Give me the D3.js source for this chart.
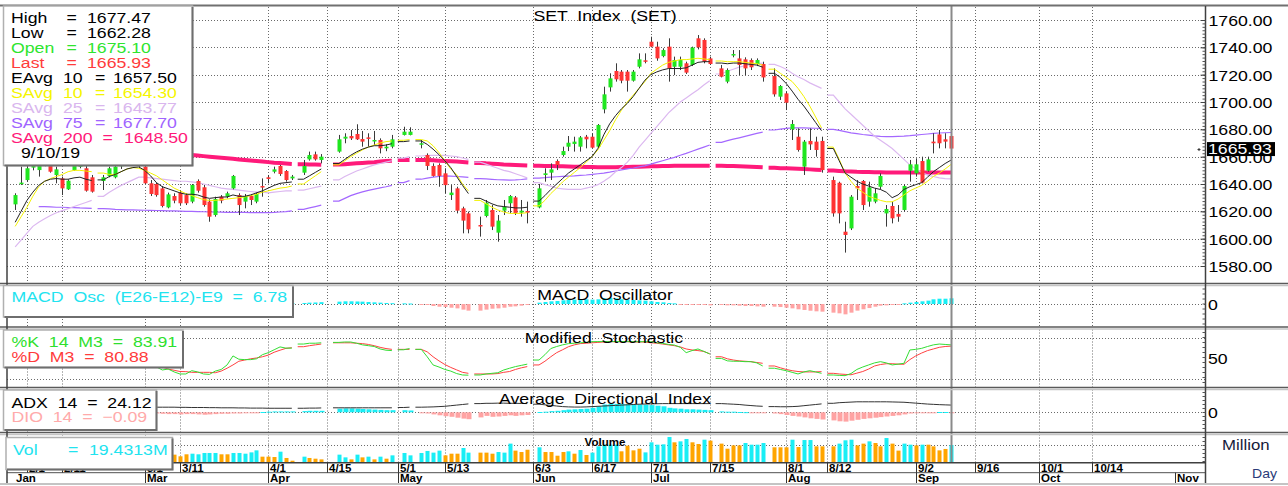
<!DOCTYPE html>
<html>
<head>
<meta charset="utf-8">
<script src="https://cdn.jsdelivr.net/npm/d3@7"></script>
<style>
body { margin: 0; background: #fff; }
svg { display: block; }
text { font-family: "Liberation Sans", Arial, sans-serif; white-space: pre; }
</style>
</head>
<body>
<div id="chart"></div>
<script>
const _ = null;

// one entry per weekday, starting Monday 28 Jan 2019 (null = no trading)
// [open, high, low, close]
const candles = [
  _, _, [1625.1,1633.2,1621.0,1631.9], [1640.0,1652.7,1639.3,1641.0], [1642.9,1653.9,1641.7,1651.5],
  [1652,1660,1650,1656], [1650.2,1660,1645.4,1655.1], [1660,1663,1653,1655], [1653.9,1660,1648.3,1649.0], [1646.6,1652.7,1640.5,1650.7],
  [1644.1,1645.4,1631.9,1636.8], [1636.1,1643.4,1635.6,1642.4], [1650.2,1660,1649.7,1655.1], [1652.7,1658,1651.5,1653.7], [1651.5,1655,1634.4,1635.1],
  [1644.9,1646.6,1633.7,1634.4], _, [1642.2,1646.6,1635.6,1644.9], [1645.9,1652.7,1644.9,1651.5], [1644.9,1653.9,1644.1,1652.7],
  [1653,1660,1651,1657], [1657,1662,1655,1659], [1660,1663,1654,1655], [1654,1659,1652,1658], [1652.7,1655,1640.0,1640.5],
  [1640.5,1642.9,1631.2,1632.7], [1640.0,1641.0,1630.7,1631.9], [1636.8,1638.5,1622.9,1623.9], [1622.9,1633.7,1622.2,1632.4], [1631.2,1633.2,1625.9,1627.8],
  [1633.7,1635.6,1624.6,1625.9], [1631.9,1633.2,1624.6,1625.9], [1627.1,1640.0,1625.9,1639.3], [1642.2,1643.4,1633.7,1635.1], [1637.6,1639.3,1623.4,1624.6],
  [1627.1,1628.8,1612.4,1616.1], [1617.3,1630.7,1616.1,1629.0], [1630.7,1631.9,1625.9,1627.8], [1630.7,1634.4,1629.5,1633.2], [1636.8,1646.6,1636.1,1645.9],
  [1631.9,1633.2,1617.3,1624.6], [1627.1,1632.7,1622.2,1631.2], [1631.2,1632.4,1624.6,1628.3], [1627.1,1633.7,1625.9,1632.7], [1638.5,1644.1,1630.7,1638.0],
  [1644.9,1646.6,1640.5,1643.7], [1649.0,1652.7,1647.8,1650.7], [1653.2,1653.9,1645.9,1647.3], [1649.5,1650.2,1641.7,1642.9], [1644.1,1646.6,1642.9,1645.4],
  _, [1648.3,1657.6,1646.6,1653.2], [1658.0,1663.7,1657.1,1661.2], [1661.7,1663.7,1657.1,1658.0], [1657.6,1661.9,1655.1,1660.0],
  _, _, [1663.7,1675.9,1662.9,1672.7], [1673.2,1677.1,1669.8,1674.6], [1675.1,1679.5,1672.2,1673.4],
  [1676.6,1683.7,1672.2,1672.7], [1672.9,1678.8,1667.3,1671.0], [1674.1,1677.1,1667.3,1673.4], [1671.7,1678.8,1668.5,1672.2], [1672.2,1673.4,1662.4,1666.1],
  [1666.1,1669.0,1664.0,1667.3], [1667.3,1675.9,1666.1,1672.7], _, [1675.9,1681.9,1675.5,1678.3], [1675.9,1681.5,1675.6,1678.3],
  _, [1668.8,1672.2,1666.1,1669.8], [1661.2,1662.4,1650.2,1653.2], [1653.2,1655.1,1645.4,1645.9], [1653.9,1655.1,1638.0,1645.9],
  [1647.8,1651.5,1633.2,1639.2], [1631.9,1639.2,1628.3,1633.7], [1636.8,1638.0,1618.5,1620.5], [1622.2,1623.4,1603.9,1613.2], [1618.5,1619.8,1603.9,1606.8],
  _, [1610.0,1616.1,1601.5,1609.5], [1616.6,1628.3,1615.6,1626.3], [1621.0,1624.6,1606.3,1608.8], [1604.4,1617.3,1597.8,1613.2],
  [1620.5,1628.3,1617.3,1623.4], [1625.9,1631.9,1618.5,1631.2], [1630.2,1631.2,1617.3,1618.5], [1619.0,1628.3,1616.1,1620.5], [1620.2,1627.1,1611.2,1619.0],
  _, [1622.9,1640.0,1622.2,1636.8], [1646.6,1651.5,1641.7,1647.8], [1648.3,1655.1,1642.9,1650.7], [1656.8,1658.0,1650.2,1653.9],
  [1661.2,1667.3,1660.0,1664.1], [1667.3,1675.1,1664.1,1670.2], [1669.3,1674.6,1663.7,1671.0], [1667.3,1675.1,1663.7,1674.1], [1674.6,1675.9,1666.1,1672.7],
  [1674.6,1677.1,1666.1,1666.6], [1667.3,1683.9,1666.8,1683.2], [1694.6,1711.2,1691.7,1705.6], [1710.7,1721.0,1707.6,1717.3], [1722.7,1728.3,1714.9,1716.6],
  [1722.2,1723.4,1713.7,1715.6], [1722.2,1723.4,1707.6,1715.6], [1715.6,1723.4,1714.9,1722.2], [1725.8,1735.6,1724.6,1731.2], [1730.5,1735.6,1728.3,1729.7],
  [1744.1,1747.8,1740.0,1740.5], [1740.5,1744.1,1730.2,1731.9], [1733.6,1739.3,1732.7,1738.0], [1740.5,1746.6,1714.9,1724.6], [1725.8,1733.2,1719.7,1730.7],
  [1725.8,1733.2,1723.4,1730.7], [1728.3,1729.5,1720.5,1721.5], [1727.1,1740.5,1726.3,1739.8], [1746.6,1749.0,1738.5,1740.0], [1745.4,1746.6,1728.3,1729.5],
  [1731.9,1733.2,1727.1,1727.8], _, [1724.6,1727.1,1718.0,1718.5], [1714.9,1724.6,1713.7,1723.4], [1734.1,1738.0,1732.7,1735.1],
  [1731.9,1738.0,1719.7,1727.1], [1731.2,1732.7,1719.7,1724.6], [1730.7,1731.9,1723.4,1725.4], [1727.8,1731.9,1726.3,1730.7], [1727.8,1729.5,1714.9,1718.0],
  _, [1719.0,1724.6,1703.9,1705.6], [1703.9,1712.4,1701.5,1711.7], [1706.3,1707.6,1694.1,1699.5], [1680.0,1686.8,1672.2,1683.9],
  [1674.6,1680.7,1663.7,1664.9], [1652.7,1672.2,1646.6,1671.0], [1671.5,1680.7,1664.9,1669.0], [1671.0,1674.6,1660.0,1664.9], [1671.5,1674.6,1648.3,1650.2],
  _, [1642.9,1645.4,1616.1,1618.5], [1640.9,1641.7,1611.2,1618.5], [1605.1,1612.4,1589.8,1602.7], [1607.5,1631.9,1606.3,1630.7],
  [1638.5,1642.9,1628.3,1636.8], [1642.2,1642.9,1621.0,1624.6], [1627.1,1641.7,1623.4,1637.5], [1627.1,1636.8,1625.9,1633.2], [1638.0,1647.8,1636.1,1645.9],
  [1618.5,1624.6,1608.8,1621.7], [1623.9,1627.1,1611.2,1614.9], [1618.1,1624.6,1612.4,1616.1], [1621.0,1639.7,1619.8,1638.5], [1649.7,1657.6,1641.7,1654.4],
  [1647.8,1658.8,1645.4,1654.4], [1656.8,1660.0,1640.5,1641.0], [1649.7,1660.0,1649.0,1658.0], [1671.0,1677.1,1662.4,1669.8], [1676.3,1679.5,1666.1,1669.8],
  [1672.7,1677.1,1666.1,1671.0], [1675.10,1677.47,1662.28,1665.93]
];

const eavg10 = [
  _,_,1612,1620,1628, 1634,1639,1642,1643.5,1644, 1643.5,1643.5,1644.5,1645,1643.5, 1642.5,_,1643,1645.5,1647,
  1649,1651,1652,1652.5,1650, 1646,1641,1638,1636.5,1635, 1633.5,1632.5,1632.5,1632,1630.5, 1629.5,1630,1630.5,1630.5,1632,
  1631,1631,1632,1633.5,1635, 1637,1639,1640.5,1641,1641.5, _,1643.5,1646,1648.5,1651, _,_,1655,1658,1661,
  1663.5,1665.5,1667,1668,1668, 1668.5,1669.5,_,1671,1671.5, _,1671.5,1669,1665.5,1661.5, 1657,1652,1645.5,1639,1633,
  _,1629.5,1627.5,1625.5,1624, 1623.5,1623,1622.5,1622.5,1623, _,1627.5,1631.5,1636,1640, 1644,1648,1651,1654,1657,
  1660,1666,1676,1684,1690, 1695,1699,1704,1710,1716, 1720,1722,1723.5,1724.5,1724.5, 1724.5,1725,1727,1729,1729.5,
  1729.5,_,1728.5,1728,1728.5, 1728.5,1728,1727.5,1727,1725.5, _,1721,1718,1713.5,1708, 1702,1697,1691,1685,1679,
  _,1666,1657,1648,1645, 1642,1640,1638.5,1637,1636, 1634,1630,1632,1636,1638, 1639.5,1641,1645,1649,1652, 1655,1657.5
];
const savg10 = [
  _,_,1609,1616,1623, 1631,1638,1642,1644,1645.5, 1647,1649,1650,1650,1649.5, 1649,_,1648,1647,1647,
  1649,1651,1652,1651.5,1650, 1648,1646,1643,1640,1637, 1635,1633,1631.5,1630,1628.5, 1628,1628,1628.5,1629,1629.5,
  1630,1630.5,1631.5,1632.5,1634, 1635,1636,1637,1637.5,1638.5, _,1640,1643,1646,1649, _,_,1654,1657,1660,
  1662.5,1665,1667,1668.5,1670, 1671,1671.5,_,1672,1672.5, _,1672.5,1671.5,1668,1663, 1657,1651,1647,1640,1635,
  _,1628,1625.5,1623,1621, 1619.5,1618.5,1618.5,1618.5,1619, _,1624,1628,1633,1637, 1641.5,1645,1648.5,1652,1656,
  1660,1665,1672,1679,1687, 1694,1700,1705,1710,1715, 1721,1724,1727,1729,1730, 1731,1731,1731.5,1732,1731.5,
  1731,_,1730,1729.5,1729.5, 1729.5,1729,1728.5,1728,1727, _,1724,1721,1718,1715, 1710,1704,1697,1689,1681,
  _,1667,1658,1648,1642, 1637,1634,1631,1629.5,1628, 1627,1627,1629,1632,1635, 1637,1639,1642,1645.5,1648, 1651,1654.3
];
const savg25 = [
  _,_,1594,1599,1604, 1609,1612,1614.5,1617,1619, 1620.5,1622,1623.5,1625,1626.5, 1628,_,1631,1634,1636.5,
  1639,1641,1643,1645,1645, 1644.5,1644,1643.5,1643,1642.5, 1642,1642,1641.5,1641,1640, 1639,1638,1637,1636.5,1636,
  1635.5,1635,1634.5,1634,1634, 1633.5,1634,1634.5,1635,1635, _,1635.5,1636.5,1637.5,1638.5, _,_,1643,1645.5,1647.5,
  1649.5,1651,1652.5,1654,1655, 1656,1657,_,1659,1660, _,1660.5,1661,1661,1661, 1661,1660.5,1660,1659,1658,
  _,1656,1654.5,1653,1651.5, 1650,1649,1647.5,1646,1644.5, _,1641,1639.5,1638.5,1637, 1636.5,1636,1636,1636,1637,
  1638,1639.5,1642,1645,1649, 1652,1656,1661,1667,1672, 1677,1682,1687,1692,1696, 1700,1703,1706,1709,1712.5,
  1715.5,_,1720.5,1722.5,1724, 1725.5,1726.5,1727.5,1728,1728.5, _,1727.5,1726,1724,1721, 1718.5,1716.5,1714,1712,1710,
  _,1705,1700,1695,1691, 1687,1683,1679,1675,1672, 1669,1666,1662,1658,1654, 1651,1648.5,1646.5,1645.5,1644.5, 1644,1643.77
];
const savg75 = [
  _,_,_,_,_, _,1623.5,1623.4,1623.2,1623, 1623,1622.8,1622.7,1622.5,1622.4, 1622.2,_,1622,1621.8,1621.5,
  1621.3,1621.1,1621,1620.9,1620.8, 1620.7,1620.6,1620.5,1620.4,1620.3, 1620.2,1620,1619.9,1619.8,1619.7, 1619.6,1619.5,1619.4,1619.3,1619.3,
  1619.2,1619.2,1619.1,1619,1619, 1619,1619.2,1619.5,1619.8,1620.3, _,1621.5,1622.5,1623.5,1624.6, _,_,1627.5,1629.5,1631.5,
  1633,1634.2,1635.3,1636.3,1637.2, 1638,1639,_,1641,1642.5, _,1643.5,1644.3,1645,1645.5, 1645.9,1645.8,1645.5,1645.2,1644.8,
  _,1644,1643.7,1643.4,1643.1, 1643,1642.9,1643,1643.3,1643.7, _,1644.3,1644.6,1645,1645.3, 1645.6,1645.8,1646,1646.3,1646.6,
  1647,1647.5,1648,1648.7,1649.5, 1650.3,1651,1651.7,1652.5,1653.3, 1654.5,1655.8,1657,1658.3,1659.5, 1661,1662.4,1664,1665.5,1667,
  1668.5,_,1670.5,1671.7,1672.8, 1673.8,1674.8,1675.9,1677,1678, _,1679.5,1680.2,1680.7,1681, 1681,1681,1680.9,1680.8,1680.7,
  _,1680,1679.2,1678.3,1677.4, 1676.8,1676.2,1675.7,1675.2,1674.8, 1674.6,1674.7,1674.9,1675.1,1675.4, 1675.8,1676.2,1676.6,1677,1677.3, 1677.5,1677.7
];
const savg200 = [
  _,_,1668,1667.8,1667.6, 1667.4,1667.2,1667,1666.8,1666.6, 1666.4,1666.2,1666,1665.8,1665.6, 1665.4,_,1665,1664.8,1664.6,
  1664.4,1664.2,1664,1663.7,1663.4, 1663.1,1662.8,1662.5,1662.2,1661.9, 1661.6,1661.4,1661.2,1660.8,1660.4, 1660,1659.6,1659.2,1658.8,1658.4,
  1658,1657.6,1657.2,1656.8,1656.4, 1656,1655.6,1655.3,1655,1654.7, _,1654.5,1654.3,1654.2,1654.1, _,_,1654.2,1654.5,1654.8,
  1655.1,1655.4,1655.7,1656,1656.4, 1656.8,1657.1,_,1657.5,1657.6, _,1657.6,1657.5,1657.3,1657.1, 1656.9,1656.7,1656.4,1656.1,1655.8,
  _,1655.4,1655.1,1654.9,1654.6, 1654.3,1654.1,1653.9,1653.7,1653.5, _,1653.3,1653.2,1653.1,1653, 1652.9,1652.8,1652.7,1652.6,1652.5,
  1652.4,1652.3,1652.3,1652.3,1652.3, 1652.4,1652.5,1652.6,1652.7,1652.8, 1652.9,1653,1653.1,1653.2,1653.3, 1653.3,1653.4,1653.4,1653.4,1653.4,
  1653.4,_,1653.3,1653.2,1653.1, 1653,1652.8,1652.6,1652.4,1652.2, _,1651.8,1651.6,1651.5,1651.3, 1651.1,1650.9,1650.7,1650.5,1650.3,
  _,1649.9,1649.6,1649.3,1649.1, 1648.9,1648.8,1648.7,1648.6,1648.6, 1648.5,1648.5,1648.5,1648.5,1648.5, 1648.5,1648.5,1648.5,1648.5,1648.5, 1648.5,1648.5
];

const macdOsc = [
  _,_,3,3.5,4, 4.2,4,3.8,3.5,3, 2.5,2,2,1.8,1.5, 1,_,0.8,0.8,1,
  1.2,1.4,1.4,1.2,0.5, -0.5,-1,-1.8,-2,-2.4, -2.8,-3,-2.6,-2.4,-2.8, -3.2,-2.8,-2.6,-2.2,-1.6,
  -1.8,-1.6,-1.4,-1,-0.6, 0,0.6,0.8,0.8,1, _,1.2,1.6,1.8,2.2, _,_,2.8,3.2,3.2,
  3.0,2.8,2.4,2.0,1.6, 1.2,1.0,_,0.8,0.6, _,-0.4,-1.2,-2.4,-3.2, -3.6,-4.4,-5.2,-6.7,-7.9,
  _,-7.9,-6.7,-5.6,-5.2, -4.4,-3.2,-2.8,-2,-1.2, _,1.6,2.4,3.2,3.6, 4.4,4.8,5.2,5.6,5.6,
  5.2,5.6,6.7,7.1,6.7, 5.6,5.2,4.8,4.4,4.0, 3.2,2.4,2.0,1.2,0.8, -0.4,-0.8,-0.8,-1.2,-1.2,
  -1.6,_,-1.2,-1.6,-1.6, -2.0,-2.4,-2.4,-2.8,-3.2, _,-3.2,-3.6,-4.4,-5.2, -6.3,-7.1,-8.0,-8.7,-9.1,
  _,-10.3,-11.1,-12.3,-10.3, -7.9,-6.3,-4.8,-3.2,-2.0, -1.6,-1.2,-0.8,0.8,1.6, 2.4,3.2,4.0,5.6,6.3, 6.3,6.78
];

const stochK = [
  _,_,75,80,85, 86,84,80,72,70, 55,58,70,72,55, 45,_,52,62,70,
  78,82,78,75,55, 38,30,22.7,25,18, 13,13,21,18,13, 12,20,24,35,57,
  49,48,48,50,60, 65,72,79,76,76, _,86,88,88,89, _,_,90,91,91,
  88,84,82,80,74, 71,70,_,72,75, _,73,55,35,30, 24,20,14,10.5,10,
  _,10.5,13,14.6,16, 22.7,27,31,34,37, _,47,60,75,80, 84,87,88,89,90,
  91.7,92,92,92,92, 92,92,91.7,91.7,91.7, 91.7,89,87.6,85,83.5, 78,65,70,74,68,
  62,_,51,45,44, 44,43,43,40,32.5, _,27,24,21,17, 13,18,21,18,14.6,
  _,10.5,9.5,8.9,14, 24,30,35,40,43, 40,35,37,39,71.5, 73,75.5,80,84,86, 85,83.91
];
const stochD = [
  _,_,70,75,78, 82,85,84,80,75, 66,62,62,66,66, 58,_,50,52,58,
  68,75,80,80,70, 55,40,30,25,22, 19,18.7,17,17,17, 17,16,20,27,35,
  44,47,50,52,55, 59,66,71,75.5,77, _,79.5,82,84,86, _,_,89,89,89,
  88,87,85,82,78, 75,73,_,73,73, _,73,67,55,45, 36,29,23,17,14.6,
  _,13,13,13,14, 17,19,24,28,31, _,35,44,55,65, 72,79.5,84,87,88,
  89,90,91,91.7,91.7, 91.7,91.7,91,91,91, 89,88,86,84,82, 79,74,71.5,70,68,
  62,_,55,50,47, 45,44,43,41,39, _,32.5,28,24,21, 19,18,18,18,18.7,
  _,14.6,13,12,11, 15,19,25,32.5,36, 38,38,37,36.6,48, 57,64,70,74,78, 80,80.88
];

const adx = [
  _,_,22,22,21.5, 21,21,20.5,20,20, 19.5,19.5,19,19,18.5, 18.5,_,18,18,18,
  17.5,17.5,17.5,17,17, 17,17,17,17,17, 16.5,16.5,16,16,16, 15.5,15.5,15,15,15,
  14.5,14.5,14,14,14, 13.5,13.5,13.5,13.5,13.5, _,13.5,14,14,14.5, _,_,15,15,15,
  15,15,15,15,15, 15,15,_,16,17, _,17,17.5,18,19, 20,22,24,26,28,
  _,29,30,30,30.5, 30.5,30,30,29.5,29, _,27,25,23,21, 19,18,17.5,17.5,18,
  19,20,21,22,23, 24,25,26,27,27.5, 28,28.5,29,29,29, 29,29,29,29,29,
  29,_,29,28,27, 26,24,22.5,21,20, _,19,18.5,18.5,19, 20,22,24,26,28,
  _,30,32,33,34, 35,35,35,35,35, 35,34.5,34,33.5,32, 30.5,29,27.5,26.5,25.5, 24.8,24.12
];
const dio = [
  _,_,8,9,10, 11,10,9,8,7, 5,4,4,4,2, 1,_,1,2,3,
  3,3,3,2,-1, -3,-4,-5,-6,-6, -7,-6,-6,-7,-8, -7,-6,-5,-5,-4,
  -4,-3,-2,-1,1, 2,3,3,3,3, _,4,5,5,5, _,_,12,13,13,
  12,11,10,9,8, 7,7,_,7,6, _,-1,-4,-7,-10, -13,-15,-18,-21,-23,
  _,-17,-12,-15,-14, -12,-10,-12,-10,-9, _,1,2,4,5, 7,9,10,11,12,
  15,20,26,28,28, 28,27,26,26,25, 24,22,20,15,13, 12,10,10,9,8,
  7,_,3,2,2, 1,0.5,-1,-1.5,-2, _,-4,-6,-9,-12, -14,-17,-20,-22,-24,
  _,-27,-30,-31,-28, -25,-22,-20,-18,-16, -14,-12,-10,-7,-4, -3,-2,-1.5,-1,1, 1,-0.09
];

const volume = [
  _,_,12,10,11, 9,10,8,9,7, 9,8,10,8,9, 8,_,7,9,10,
  8,9,10,8,11, 9,8,10,9,8.4, 6.5,8.8,9.5,8.8,10.3, 10.3,10.3,8.8,8.8,10.3,
  10.3,9.5,11,13.3,6.1, 6.1,5.7,11.8,4.6,1.5, _,6.1,4.6,3.8,3.0, _,_,8.4,5.3,3.0,
  8.4,5.3,6.1,3.0,6.1, 3.8,7.6,_,10.3,7.6, _,10.3,12.6,10.7,13, 7.6,9.5,9.5,16,10.7,
  _,10.7,10.7,9.5,11.4, 10.7,21,13,11.4,14, _,16.8,11.4,11.4,7.2, 11.4,12.2,9.5,13.7,8,
  10.7,17.9,19.8,19.8,19.8, 12.2,18.7,13.3,15.2,11, 22.5,19.8,20.2,28.6,22.5, 23.6,26.3,22.5,20.6,25.5,
  24.4,_,21,15.2,19, 19,21.7,19.8,19.8,21.7, _,16.8,16.8,16.8,25.5, 17.1,25.1,25.1,17.9,17.9,
  _,17.9,21,24.8,25.5, 19,21,23.6,21.7,17.9, 27.4,21,13,21,19.8, 19,19.8,19.8,17.9,13.3, 14.9,19.4313
];
// 1 = cyan (up volume) bar, 0 = orange bar
const volUp = [
  _,_,1,0,1, 1,0,1,0,1, 0,1,1,0,0, 0,_,1,1,1,
  1,0,1,0,0, 0,1,0,1,0, 0,0,1,1,1, 1,1,0,0,1,
  1,1,1,1,0, 0,0,1,0,0, _,1,0,0,0, _,_,1,1,0,
  1,0,1,0,1, 0,1,_,1,1, _,1,1,1,1, 0,0,0,1,1,
  _,0,0,0,1, 1,1,0,0,0, _,1,0,0,0, 0,1,0,1,0,
  1,1,1,1,1, 0,0,0,0,1, 1,1,1,1,0, 1,1,0,0,1,
  0,_,0,0,0, 0,1,1,1,1, _,0,0,0,1, 0,1,1,0,0,
  _,0,1,1,1, 0,0,1,0,0, 1,0,0,1,1, 0,1,0,0,0, 0,1
];

const priceTicks = [1580, 1600, 1620, 1640, 1660, 1680, 1700, 1720, 1740, 1760];
const weekTicks = ["2019-02-01","2019-02-11","2019-03-01","2019-03-11","2019-04-01","2019-04-15","2019-05-01",
  "2019-05-13","2019-06-03","2019-06-17","2019-07-01","2019-07-15","2019-08-01","2019-08-12","2019-09-02",
  "2019-09-16","2019-10-01","2019-10-14"];
const monthTicks = ["2019-03-01","2019-04-01","2019-05-01","2019-06-03","2019-07-01","2019-08-01","2019-09-02",
  "2019-10-01","2019-11-01"];
const lastDate = "2019-09-10";

// ---------- layout ----------
const W = 1288, H = 486;
const plotL = 7, plotR = 1205.5;
const P = {
  main:  [7, 283],
  macd:  [286, 327],
  stoch: [329.5, 387.5],
  adx:   [389.5, 432.5],
  vol:   [434.5, 462.7]
};

const start = new Date(Date.UTC(2019, 0, 28));
function dayIndex(s) {
  const n = d3.utcDay.count(start, new Date(s + "T00:00:00Z"));
  return Math.floor(n / 7) * 5 + (n % 7);
}
const fmtWeek = d3.utcFormat("%-m/%-d"), fmtMonth = d3.utcFormat("%b");

const x = d3.scaleLinear().domain([0, 204]).range([3.4, 3.4 + 204 * 5.886]);
const yMain = d3.scaleLinear().domain([1580, 1760]).range([266, 20]);
const yMacd = d3.scaleLinear().domain([0, 10]).range([304, 295.6]);
const yStoch = d3.scaleLinear().domain([0, 100]).range([379.3, 338.3]);
const yAdx = d3.scaleLinear().domain([0, 100]).range([412.3, 382.3]);
const yVol = d3.scaleLinear().domain([0, 20]).range([462, 444.5]);

const svg = d3.select("#chart").append("svg").attr("width", W).attr("height", H);
svg.append("rect").attr("width", W).attr("height", H).attr("fill", "#fff");

const defs = svg.append("defs");
Object.entries(P).forEach(([k, [t, b]]) => {
  defs.append("clipPath").attr("id", "clip-" + k)
    .append("rect").attr("x", plotL).attr("y", t).attr("width", plotR - plotL).attr("height", b - t);
});

function txt(g, px, py, s, o = {}) {
  return g.append("text")
    .attr("transform", `translate(${px},${py}) scale(${o.sx ?? 1.18},1)`)
    .attr("text-anchor", o.anchor || "start")
    .attr("fill", o.fill || "#000")
    .style("font-size", (o.size || 15) + "px")
    .style("font-weight", o.bold ? "bold" : "normal")
    .text(s);
}

// split a daily series into runs of trading days; a run that follows a holiday
// starts one slot early, the way the charting program draws it
function runs(arr) {
  const out = [];
  let cur = null;
  arr.forEach((v, i) => {
    if (v == null) { cur = null; return; }
    if (!cur) {
      cur = [];
      if (out.length) cur.push([i - 1, v]);
      out.push(cur);
    }
    cur.push([i, v]);
  });
  return out;
}
const lineOf = (arr, sc) => runs(arr).map(r => d3.line().x(d => x(d[0])).y(d => sc(d[1]))(r)).join("");

// ---------- grid ----------
const grid = svg.append("g").attr("stroke", "#6a6a6a").attr("stroke-width", 1).attr("stroke-dasharray", "1,2");
const weekIdx = weekTicks.map(dayIndex);
Object.values(P).forEach(([t, b]) => {
  weekIdx.forEach(i => grid.append("line").attr("x1", Math.round(x(i)) + 0.5).attr("x2", Math.round(x(i)) + 0.5)
    .attr("y1", t).attr("y2", b));
});
priceTicks.forEach(v => grid.append("line").attr("x1", plotL).attr("x2", plotR)
  .attr("y1", Math.round(yMain(v)) + 0.5).attr("y2", Math.round(yMain(v)) + 0.5));
[[yMacd, 0], [yStoch, 0], [yStoch, 100], [yAdx, 0], [yVol, 20]].forEach(([s, v]) =>
  grid.append("line").attr("x1", plotL).attr("x2", plotR)
    .attr("y1", Math.round(s(v)) + 0.5).attr("y2", Math.round(s(v)) + 0.5));

// ---------- main panel ----------
const gMain = svg.append("g").attr("clip-path", "url(#clip-main)");

gMain.append("path").attr("d", lineOf(savg200, yMain)).attr("fill", "none")
  .attr("stroke", "#ff1a7a").attr("stroke-width", 4);
gMain.append("path").attr("d", lineOf(savg75, yMain)).attr("fill", "none")
  .attr("stroke", "#a468ff").attr("stroke-width", 1.2);
gMain.append("path").attr("d", lineOf(savg25, yMain)).attr("fill", "none")
  .attr("stroke", "#dcb8f0").attr("stroke-width", 1.2);

const cd = candles.map((c, i) => c && { i, o: c[0], h: c[1], l: c[2], c: c[3] }).filter(Boolean);
gMain.selectAll("line.wick").data(cd).join("line").attr("class", "wick")
  .attr("x1", d => Math.round(x(d.i)) + 0.5).attr("x2", d => Math.round(x(d.i)) + 0.5)
  .attr("y1", d => yMain(d.h)).attr("y2", d => yMain(d.l))
  .attr("stroke", "#3a3a3a").attr("stroke-width", 1);
gMain.selectAll("rect.body").data(cd).join("rect").attr("class", "body")
  .attr("x", d => Math.round(x(d.i)) - 1.5).attr("width", 4)
  .attr("y", d => yMain(Math.max(d.o, d.c)))
  .attr("height", d => Math.max(1.5, Math.abs(yMain(d.o) - yMain(d.c))))
  .attr("fill", d => d.c >= d.o ? "#1fe61f" : "#ff3333");

gMain.append("path").attr("d", lineOf(savg10, yMain)).attr("fill", "none")
  .attr("stroke", "#f2f200").attr("stroke-width", 1);
gMain.append("path").attr("d", lineOf(eavg10, yMain)).attr("fill", "none")
  .attr("stroke", "#222").attr("stroke-width", 1);

// ---------- MACD ----------
const gMacd = svg.append("g").attr("clip-path", "url(#clip-macd)");
gMacd.selectAll("rect").data(macdOsc.map((v, i) => v == null ? null : { i, v }).filter(Boolean)).join("rect")
  .attr("x", d => Math.round(x(d.i)) - 1.5).attr("width", 4)
  .attr("y", d => Math.min(yMacd(d.v), yMacd(0))).attr("height", d => Math.max(1, Math.abs(yMacd(d.v) - yMacd(0))))
  .attr("fill", d => d.v >= 0 ? "#19eef5" : "#ffa3a3");

// ---------- Stochastic ----------
const gSto = svg.append("g").attr("clip-path", "url(#clip-stoch)");
gSto.append("path").attr("d", lineOf(stochD, yStoch)).attr("fill", "none").attr("stroke", "#ff4040").attr("stroke-width", 1);
gSto.append("path").attr("d", lineOf(stochK, yStoch)).attr("fill", "none").attr("stroke", "#33dd33").attr("stroke-width", 1);

// ---------- ADX ----------
const gAdx = svg.append("g").attr("clip-path", "url(#clip-adx)");
gAdx.selectAll("rect").data(dio.map((v, i) => v == null ? null : { i, v }).filter(Boolean)).join("rect")
  .attr("x", d => Math.round(x(d.i)) - 1.5).attr("width", 5)
  .attr("y", d => Math.min(yAdx(d.v), yAdx(0))).attr("height", d => Math.max(1, Math.abs(yAdx(d.v) - yAdx(0))))
  .attr("fill", d => d.v >= 0 ? "#19eef5" : "#ffa3a3");
gAdx.append("path").attr("d", lineOf(adx, yAdx)).attr("fill", "none").attr("stroke", "#333").attr("stroke-width", 1);

// ---------- Volume ----------
const gVol = svg.append("g").attr("clip-path", "url(#clip-vol)");
gVol.selectAll("rect").data(volume.map((v, i) => v == null ? null : { i, v, up: volUp[i] }).filter(Boolean)).join("rect")
  .attr("x", d => Math.round(x(d.i)) - 1.5).attr("width", 4)
  .attr("y", d => yVol(d.v)).attr("height", d => yVol(0) - yVol(d.v))
  .attr("fill", d => d.up ? "#19eef5" : "#ffa500");

// ---------- current-day marker ----------
const lastX = Math.round(x(dayIndex(lastDate))) + 0.5;
svg.append("line").attr("x1", lastX).attr("x2", lastX).attr("y1", 6).attr("y2", P.vol[1])
  .attr("stroke", "#8a8a8a").attr("stroke-width", 2);

// ---------- frame ----------
const frame = svg.append("g");
frame.append("line").attr("x1", 0).attr("x2", W).attr("y1", 5.5).attr("y2", 5.5).attr("stroke", "#707070").attr("stroke-width", 2);
[[283.5, 285.5], [327, 329], [387.5, 389.5], [432.5, 434.5]].forEach(([a, b]) => {
  frame.append("line").attr("x1", 0).attr("x2", W).attr("y1", a).attr("y2", a).attr("stroke", "#5a5a5a").attr("stroke-width", 1.5);
  frame.append("line").attr("x1", 0).attr("x2", W).attr("y1", b).attr("y2", b).attr("stroke", "#c4c4c4").attr("stroke-width", 1.5);
});
frame.append("line").attr("x1", plotL).attr("x2", plotR).attr("y1", 462.7).attr("y2", 462.7).attr("stroke", "#404040").attr("stroke-width", 1.5);
frame.append("line").attr("x1", plotL).attr("x2", plotR).attr("y1", 472.7).attr("y2", 472.7).attr("stroke", "#505050").attr("stroke-width", 1);
frame.append("line").attr("x1", 0).attr("x2", W).attr("y1", 484).attr("y2", 484).attr("stroke", "#c4c4c4").attr("stroke-width", 2);
frame.append("line").attr("x1", plotR).attr("x2", plotR).attr("y1", 6).attr("y2", 483).attr("stroke", "#404040").attr("stroke-width", 1.5);
frame.append("line").attr("x1", plotL).attr("x2", plotL).attr("y1", 6).attr("y2", 483).attr("stroke", "#404040").attr("stroke-width", 1.5);

// right axis of the price panel
const axMinor = d3.axisRight(yMain).tickValues(d3.range(1580, 1762, 2.5)).tickSize(-3).tickFormat("");
svg.append("g").attr("transform", `translate(${plotR},0)`).call(axMinor)
  .call(g => g.select(".domain").remove()).selectAll("line").attr("stroke", "#555");
const axMain = d3.axisRight(yMain).tickValues(priceTicks).tickSize(-5).tickPadding(3).tickFormat(d3.format(".2f"));
svg.append("g").attr("transform", `translate(${plotR},0)`).call(axMain)
  .call(g => g.select(".domain").remove())
  .call(g => g.selectAll("line").attr("stroke", "#444"))
  .call(g => g.selectAll("text").attr("x", 0).attr("dy", "0.36em")
    .attr("transform", "translate(3,0) scale(1.18,1)")
    .style("font-size", "15px").style("font-family", "'Liberation Sans', Arial, sans-serif").attr("fill", "#000"));

// minor ticks on sub panels
[[P.macd, 5], [P.stoch, 5], [P.adx, 4], [P.vol, 4]].forEach(([[t, b], step]) => {
  d3.range(t + 3, b - 1, step).forEach(yy => frame.append("line").attr("x1", plotR - 3).attr("x2", plotR)
    .attr("y1", yy).attr("y2", yy).attr("stroke", "#555"));
});

const axT = svg.append("g");
txt(axT, 1208, yMacd(0) + 5.5, "0");
txt(axT, 1208, yStoch(50) + 5.5, "50");
txt(axT, 1208, yAdx(0) + 5.5, "0");
txt(axT, 1222, 450, "Million", { fill: "#161a3a", sx: 1.12 });
txt(axT, 1252, 478, "Day", { fill: "#2a3a78", size: 13, sx: 1.08 });

// last price tag
const lastC = candles[candles.length - 1];
const ly = yMain(lastC[3]);
svg.append("rect").attr("x", 1207).attr("y", ly - 6.5).attr("width", 68).attr("height", 14).attr("fill", "#000");
txt(svg, 1208, ly + 5.5, d3.format(".2f")(lastC[3]), { fill: "#fff" });
svg.append("path").attr("d", `M${1197.5},${ly + 1}h3M${1199},${ly - 0.5}v3`).attr("stroke", "#333");

// ---------- time axis ----------
const axX = svg.append("g");
weekTicks.forEach((s, k) => {
  const xx = Math.round(x(weekIdx[k])) + 0.5;
  axX.append("line").attr("x1", xx).attr("x2", xx).attr("y1", 462.7).attr("y2", 472.7).attr("stroke", "#333");
  txt(axX, xx + 1.5, 471.5, fmtWeek(new Date(s + "T00:00:00Z")), { size: 11.5, bold: true, sx: 1 });
});
monthTicks.forEach(s => {
  const xx = Math.round(x(dayIndex(s))) + 0.5;
  axX.append("line").attr("x1", xx).attr("x2", xx).attr("y1", 472.7).attr("y2", 483).attr("stroke", "#333");
  txt(axX, xx + 1.5, 482, fmtMonth(new Date(s + "T00:00:00Z")), { size: 11, bold: true, sx: 1.05 });
});
txt(axX, 16, 482, "Jan", { size: 11, bold: true, sx: 1.05 });

// ---------- titles ----------
const tt = svg.append("g");
txt(tt, 605, 21, "SET  Index  (SET)", { anchor: "middle" });
txt(tt, 605, 300, "MACD  Oscillator", { anchor: "middle" });
txt(tt, 604, 343, "Modified  Stochastic", { anchor: "middle" });
txt(tt, 605, 404, "Average  Directional  Index", { anchor: "middle" });
txt(tt, 605, 446, "Volume", { anchor: "middle", size: 10.5, bold: true, sx: 1.1 });

// ---------- legend boxes ----------
const lg = svg.append("g");
function box(x0, y0, x1, y1) {
  lg.append("rect").attr("x", x0).attr("y", y0).attr("width", x1 - x0).attr("height", y1 - y0)
    .attr("fill", "#fff").attr("stroke", "#b0b0b0").attr("stroke-width", 1.5);
  lg.append("path").attr("d", `M${x1},${y0 + 1}V${y1}H${x0 + 1}`).attr("fill", "none")
    .attr("stroke", "#6e6e6e").attr("stroke-width", 2);
}
const f2 = d3.format(".2f");
const last = a => a[a.length - 1];

box(3.5, 6, 192.5, 165.5);
const rows = [
  ["High", "", f2(lastC[1]), "#000", 0],
  ["Low", "", f2(lastC[2]), "#000", 0],
  ["Open", "", f2(lastC[0]), "#2ee52e", 0],
  ["Last", "", f2(lastC[3]), "#ff3b3b", 0],
  ["EAvg", "10", f2(last(eavg10)), "#000", 1],
  ["SAvg", "10", f2(last(savg10)), "#f5f500", 1],
  ["SAvg", "25", f2(last(savg25)), "#d9b6ee", 1],
  ["SAvg", "75", f2(last(savg75)), "#a064ff", 1],
  ["SAvg", "200", f2(last(savg200)), "#ff1a7a", 2]
];
rows.forEach(([a, n, v, c, kind], k) => {
  const yy = 23 + k * 15;
  txt(lg, 11, yy, a, { fill: c });
  if (kind === 0) { txt(lg, 66.5, yy, "=", { fill: c }); txt(lg, 87, yy, v, { fill: c }); }
  else if (kind === 1) { txt(lg, 63, yy, n, { fill: c }); txt(lg, 95, yy, "=", { fill: c }); txt(lg, 113, yy, v, { fill: c }); }
  else { txt(lg, 63, yy, n, { fill: c }); txt(lg, 102.5, yy, "=", { fill: c }); txt(lg, 124, yy, v, { fill: c }); }
});
txt(lg, 21, 158, d3.utcFormat("%-m/%-d/%y")(new Date(lastDate + "T00:00:00Z")));

box(3.5, 285.5, 293, 317);
txt(lg, 11.5, 302, "MACD  Osc  (E26-E12)-E9  =  " + f2(last(macdOsc)), { fill: "#22e3ef" });

box(3.5, 330, 183, 367.5);
txt(lg, 11.5, 347, "%K  14  M3  =  " + f2(last(stochK)), { fill: "#2edf2e" });
txt(lg, 11.5, 362, "%D  M3  =  " + f2(last(stochD)), { fill: "#ff3b3b" });

box(3.5, 390, 156.5, 430);
txt(lg, 11.5, 408, "ADX  14  =  " + f2(last(adx)), { fill: "#000" });
txt(lg, 11.5, 422, "DIO  14  =  " + f2(last(dio)), { fill: "#ffaaaa" });

box(6, 437.5, 172.5, 469.5);
txt(lg, 13, 455, "Vol", { fill: "#22e3ef" });
txt(lg, 68, 455, "=", { fill: "#22e3ef" });
txt(lg, 89, 455, d3.format(".4f")(last(volume)) + "M", { fill: "#22e3ef" });
</script>
</body>
</html>
